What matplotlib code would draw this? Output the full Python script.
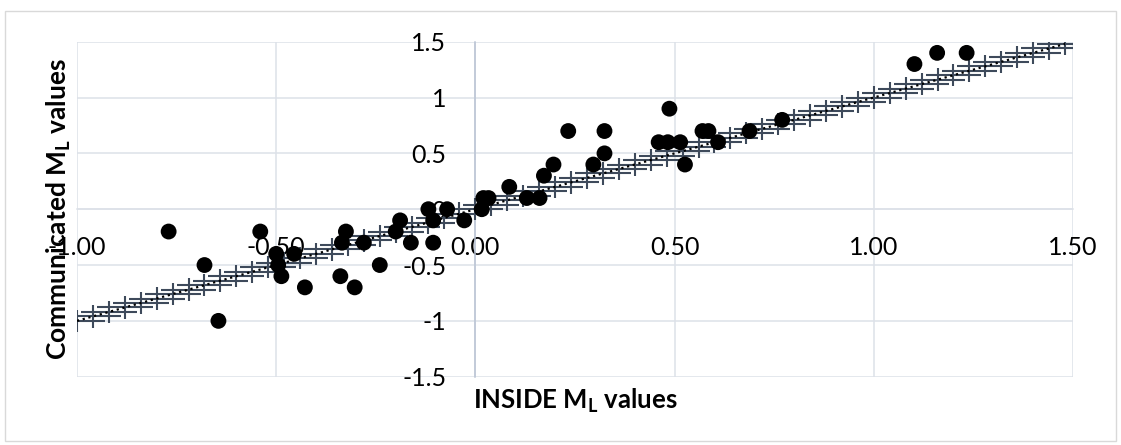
import numpy as np
import matplotlib
matplotlib.use('Agg')
import matplotlib.pyplot as plt
from matplotlib.patches import Rectangle

plt.rcParams['font.family'] = ['Lato', 'DejaVu Sans']
plt.rcParams['mathtext.default'] = 'regular'

# INSIDE vs communicated local magnitudes
inside_ml = [-0.770, -0.680, -0.645, -0.540, -0.500, -0.495, -0.487, -0.455,
             -0.428, -0.339, -0.335, -0.325, -0.303, -0.280, -0.240, -0.200,
             -0.189, -0.162, -0.118, -0.106, -0.106, -0.071, -0.028, 0.016,
             0.020, 0.033, 0.085, 0.129, 0.161, 0.172, 0.196, 0.233,
             0.296, 0.324, 0.324, 0.460, 0.483, 0.487, 0.514, 0.526,
             0.570, 0.585, 0.609, 0.688, 0.770, 1.102, 1.159, 1.233]
communicated_ml = [-0.2, -0.5, -1.0, -0.2, -0.4, -0.5, -0.6, -0.4,
                   -0.7, -0.6, -0.3, -0.2, -0.7, -0.3, -0.5, -0.2,
                   -0.1, -0.3, 0.0, -0.1, -0.3, 0.0, -0.1, 0.0,
                   0.1, 0.1, 0.2, 0.1, 0.1, 0.3, 0.4, 0.7,
                   0.4, 0.5, 0.7, 0.6, 0.6, 0.9, 0.6, 0.4,
                   0.7, 0.7, 0.6, 0.7, 0.8, 1.3, 1.4, 1.4]

# 1:1 reference line with its uncertainty band
ref_x = np.arange(-1.0, 1.5, 0.04)
ref_y = ref_x.copy()
ref_xerr = 0.07
ref_yerr = 0.1

x_ticks = [-1.0, -0.5, 0.0, 0.5, 1.0, 1.5]
x_ticklabels = ['-1.00', '-0.50', '0.00', '0.50', '1.00', '1.50']
y_ticks = [-1.5, -1.0, -0.5, 0.0, 0.5, 1.0, 1.5]
y_ticklabels = ['-1.5', '-1', '-0.5', '0', '0.5', '1', '1.5']

W, H = 1121, 445
fig = plt.figure(figsize=(W / 100, H / 100), dpi=100)
fig.patch.set_facecolor('white')
fig.patches.append(Rectangle((5 / W, 4 / H), 1111 / W, 430 / H, transform=fig.transFigure,
                             fill=False, edgecolor='#d9d9d9', linewidth=1.0))

ax = fig.add_axes([77 / W, 1 - 376.7 / H, (1073 - 77) / W, (376.7 - 41.7) / H])
ax.set_xlim(-1.0, 1.5)
ax.set_ylim(-1.5, 1.5)

grid_c = '#dde1e8'
ax.set_axisbelow(True)
ax.grid(True, color=grid_c, linewidth=1.1)

for s in ['top', 'right']:
    ax.spines[s].set_visible(False)
ax.spines['left'].set_position(('data', 0))
ax.spines['left'].set_color('#b9c3d3')
ax.spines['left'].set_linewidth(1.1)
ax.spines['bottom'].set_position(('data', 0))
ax.spines['bottom'].set_color(grid_c)
ax.spines['bottom'].set_linewidth(1.1)

ax.set_xticks(x_ticks)
ax.set_xticklabels(x_ticklabels)
ax.set_yticks(y_ticks)
ax.set_yticklabels(y_ticklabels)
ax.tick_params(axis='x', length=0, pad=19, labelsize=18, labelcolor='black')
ax.tick_params(axis='y', length=0, pad=21, labelsize=18, labelcolor='black')

ax.errorbar(ref_x, ref_y, xerr=ref_xerr, yerr=ref_yerr, fmt='none',
            ecolor='#3e4a5b', elinewidth=1.5, capsize=0, zorder=3)
ax.plot(ref_x, ref_y, linestyle=':', color='black', linewidth=1.6, zorder=3.5)

ax.scatter(inside_ml, communicated_ml, s=130, color='black', edgecolors='none', zorder=4)

fig.text(575 / W, 1 - 401 / H, r'INSIDE M$_{L}$ values', ha='center', va='center',
         fontsize=18.5, fontweight='bold')
fig.text(59 / W, 1 - 209 / H, r'Communicated M$_{L}$ values', ha='center', va='center',
         rotation=90, fontsize=19, fontweight='bold')

fig.savefig('out.png', dpi=100)
